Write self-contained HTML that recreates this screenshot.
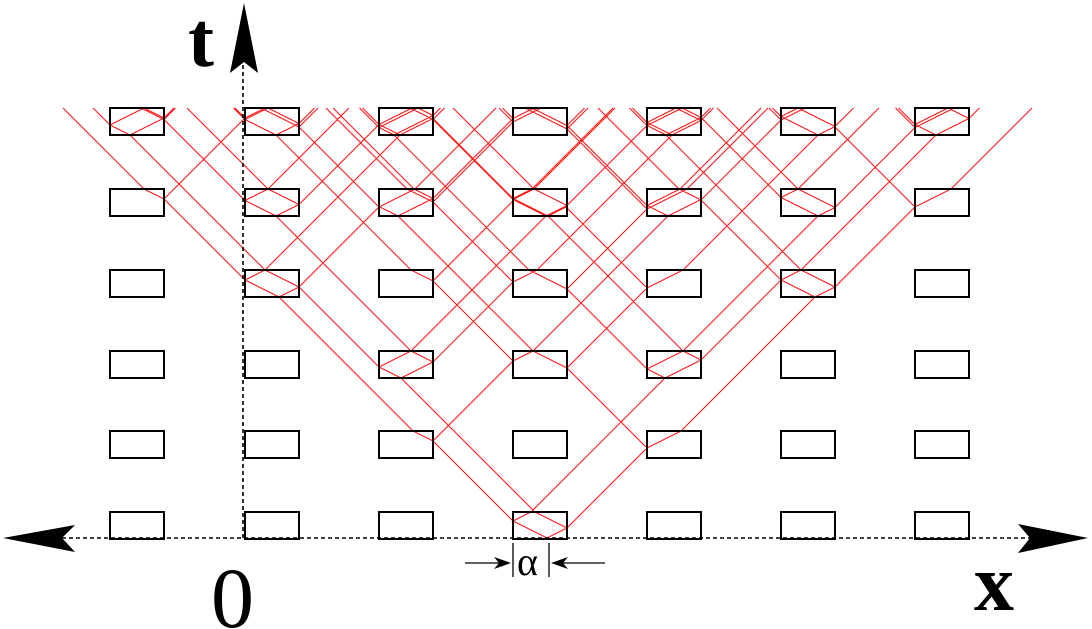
<!DOCTYPE html>
<html><head><meta charset="utf-8"><style>
html,body{margin:0;padding:0;background:#fff;}
svg{display:block}
</style></head><body>
<svg id="s" width="1092" height="629" viewBox="0 0 1092 629" xmlns="http://www.w3.org/2000/svg">
<g id="red" stroke="#ff1a1a" stroke-width="1.1" fill="none"></g>
<g id="rects" stroke="#000" stroke-width="2" fill="none"></g>
<line x1="243" y1="65" x2="243" y2="538" stroke="#000" stroke-width="1.6" stroke-dasharray="4,3"/>
<line x1="62" y1="538" x2="1030" y2="538" stroke="#000" stroke-width="1.6" stroke-dasharray="4,3"/>
<polygon points="244,3 258,73 244,62 230,73" fill="#000"/>
<polygon points="3,538 75,525 62,538 75,552" fill="#000"/>
<polygon points="1088,538 1018,524 1030,538 1018,553" fill="#000"/>
<text x="188" y="66" font-family="Liberation Serif, serif" font-size="78" font-weight="bold">t</text>
<text x="211" y="627" font-family="Liberation Serif, serif" font-size="86">0</text>
<text x="974" y="610" font-family="Liberation Serif, serif" font-size="80" font-weight="bold">x</text>
<line x1="513" y1="543" x2="513" y2="577" stroke="#000" stroke-width="1.3"/>
<line x1="549" y1="543" x2="549" y2="577" stroke="#000" stroke-width="1.3"/>
<line x1="465" y1="563" x2="500" y2="563" stroke="#000" stroke-width="1.3"/>
<polygon points="511,563 494,557 499,563 494,569" fill="#000"/>
<line x1="562" y1="563" x2="605" y2="563" stroke="#000" stroke-width="1.3"/>
<polygon points="551,563 568,557 563,563 568,569" fill="#000"/>
<text x="517" y="575" font-family="Liberation Serif, serif" font-size="40">α</text>
</svg>
<script>
(function(){
var NS="http://www.w3.org/2000/svg";
var cols=[110,245,379,513,647,781,915], rows=[108,189,270,351,431,512];
var W=54,H=27,TOP=108;
var R=[];
cols.forEach(function(x){rows.forEach(function(y){R.push({l:x,r:x+W,t:y,b:y+H});});});
var rg=document.getElementById('rects');
R.forEach(function(q){var e=document.createElementNS(NS,'rect');e.setAttribute('x',q.l);e.setAttribute('y',q.t);e.setAttribute('width',W);e.setAttribute('height',H);rg.appendChild(e);});
var red=document.getElementById('red');
var segs=[],seen={},stack=[],E=1e-6;
function line(a,b,c,d){segs.push([a,b,c,d]);}
function push(st){var k=(st.in?1:0)+"_"+Math.round(st.x/3)+"_"+Math.round(st.y/3)+"_"+st.h;if(seen[k])return;seen[k]=1;stack.push(st);}
var src=R.filter(function(q){return q.l==513&&q.t==512;})[0];
push({in:src,x:547,y:538,h:-1});push({in:src,x:547,y:538,h:1});
var n=0;
while(stack.length&&n<40000){n++;var s=stack.pop();
 if(s.in){var q=s.in;
  var dyTop=s.y-q.t;
  var dw=s.h>0?(q.r-s.x):(s.x-q.l);
  var dyW=dw/2;
  if(dyTop<=dyW+E){var nx=s.x+2*s.h*dyTop;line(s.x,s.y,nx,q.t);
   if(q.t>TOP+E)push({in:null,x:nx,y:q.t,h:s.h,skip:q});}
  else{var nx=s.x+2*s.h*dyW,ny=s.y-dyW;line(s.x,s.y,nx,ny);
   push({in:null,x:nx,y:ny,h:s.h,skip:q});push({in:q,x:nx,y:ny,h:-s.h});}
 } else {
  var best=s.y-TOP,bq=null,side=false;
  R.forEach(function(q){if(q===s.skip)return;
   var d=s.y-q.b;if(d>E&&d<best){var xx=s.x+s.h*d;if(xx>q.l&&xx<q.r){best=d;bq=q;side=false;}}
   var wx=s.h>0?q.l:q.r;var d2=(wx-s.x)*s.h;if(d2>E&&d2<best){var yy=s.y-d2;if(yy>q.t&&yy<q.b){best=d2;bq=q;side=true;}}
  });
  var nx=s.x+s.h*best,ny=s.y-best;
  if(nx<-50||nx>1150){continue;}
  line(s.x,s.y,nx,ny);
  if(bq){push({in:bq,x:nx,y:ny,h:s.h});
   if(side)push({in:null,x:nx,y:ny,h:-s.h,skip:bq});
   else push({in:bq,x:nx,y:ny,h:-s.h});}
 }
}
var d="";segs.forEach(function(g){d+="M"+g[0].toFixed(1)+" "+g[1].toFixed(1)+"L"+g[2].toFixed(1)+" "+g[3].toFixed(1);});
var p=document.createElementNS(NS,'path');p.setAttribute('d',d);red.appendChild(p);
})();
</script>
</body></html>
